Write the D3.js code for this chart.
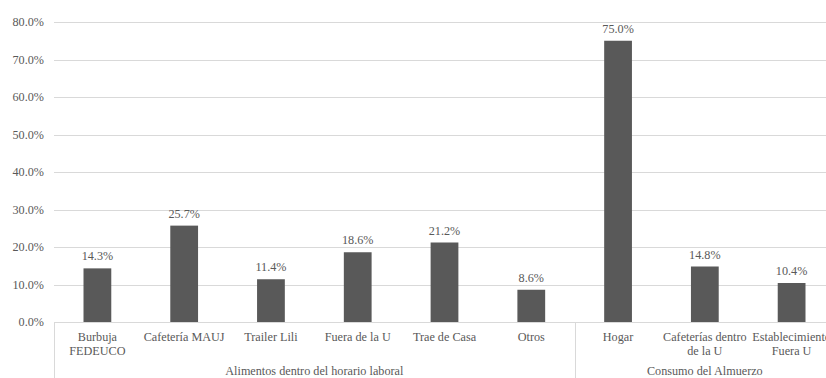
<!DOCTYPE html>
<html>
<head>
<meta charset="utf-8">
<script src="https://cdn.jsdelivr.net/npm/d3@7"></script>
<style>
  html, body { margin: 0; padding: 0; background: #fff; }
  svg { display: block; }
</style>
</head>
<body>
<svg id="chart" width="826" height="378"></svg>
<script>
// Category labels (line breaks with \n), group for each, and percentage values
const categories = [
  "Burbuja\nFEDEUCO", "Cafetería MAUJ", "Trailer Lili", "Fuera de la U",
  "Trae de Casa", "Otros", "Hogar", "Cafeterías dentro\nde la U", "Establecimiento\nFuera U"
];
const groups = [
  "Alimentos dentro del horario laboral", "Alimentos dentro del horario laboral",
  "Alimentos dentro del horario laboral", "Alimentos dentro del horario laboral",
  "Alimentos dentro del horario laboral", "Alimentos dentro del horario laboral",
  "Consumo del Almuerzo", "Consumo del Almuerzo", "Consumo del Almuerzo"
];
const values = [14.3, 25.7, 11.4, 18.6, 21.2, 8.6, 75.0, 14.8, 10.4];
const yTicks = [0, 10, 20, 30, 40, 50, 60, 70, 80];

const svg = d3.select("#chart");
const plotLeft = 54, plotRight = 835, plotTop = 22, plotBottom = 322, svgH = 378, svgW = 826;
const fontSize = 12.2, textColor = "#595959", serif = '"Liberation Serif"';

// Shared text styling
const styleText = sel => sel.style("font-family", serif).style("font-size", fontSize + "px").attr("fill", textColor);

const ids = d3.range(categories.length);
const xOuter = d3.scaleBand().domain(ids).range([plotLeft, plotRight]).padding(0);
const x = d3.scaleBand().domain(ids).range([plotLeft, plotRight]).paddingInner(0.68).paddingOuter(0.34);
const y = d3.scaleLinear().domain([0, 80]).range([plotBottom, plotTop]);

// Horizontal gridlines
svg.append("g").selectAll("line").data(yTicks).join("line")
  .attr("x1", plotLeft).attr("x2", svgW)
  .attr("y1", d => Math.round(y(d)) + 0.5).attr("y2", d => Math.round(y(d)) + 0.5)
  .attr("stroke", "#d9d9d9").attr("stroke-width", 1);

// Y tick labels
svg.append("g").selectAll("text").data(yTicks).join("text")
  .attr("x", 44).attr("y", d => y(d)).attr("dy", "0.35em")
  .attr("text-anchor", "end").call(styleText)
  .text(d => d3.format(".1f")(d) + "%");

// Bars
svg.append("g").selectAll("rect").data(values).join("rect")
  .attr("x", (d, i) => x(i)).attr("width", x.bandwidth())
  .attr("y", d => y(d)).attr("height", d => y(0) - y(d))
  .attr("fill", "#595959");

// Value labels
svg.append("g").selectAll("text").data(values).join("text")
  .attr("x", (d, i) => x(i) + x.bandwidth() / 2)
  .attr("y", d => y(d) - 8)
  .attr("text-anchor", "middle").call(styleText)
  .text(d => d3.format(".1f")(d) + "%");

// Category axis baseline
svg.append("line")
  .attr("x1", plotLeft).attr("x2", svgW)
  .attr("y1", plotBottom + 0.5).attr("y2", plotBottom + 0.5)
  .attr("stroke", "#d9d9d9");

// Category labels
const catG = svg.append("g");
categories.forEach((c, i) => {
  const cx = xOuter(i) + xOuter.bandwidth() / 2;
  const t = catG.append("text")
    .attr("x", cx).attr("y", 340.5)
    .attr("text-anchor", "middle").call(styleText);
  c.split("\n").forEach((line, k) => {
    t.append("tspan").attr("x", cx).attr("dy", k === 0 ? 0 : 14.5).text(line);
  });
});

// Group spans and separators
const groupNames = Array.from(new Set(groups));
const spans = groupNames.map(g => {
  const idx = ids.filter(i => groups[i] === g);
  return { name: g, x0: xOuter(idx[0]), x1: xOuter(idx[idx.length - 1]) + xOuter.bandwidth() };
});
svg.append("g").selectAll("line").data(spans).join("line")
  .attr("x1", d => Math.round(d.x0) + 0.5).attr("x2", d => Math.round(d.x0) + 0.5)
  .attr("y1", plotBottom).attr("y2", svgH)
  .attr("stroke", "#d9d9d9");
svg.append("g").selectAll("text").data(spans).join("text")
  .attr("x", d => (d.x0 + d.x1) / 2)
  .attr("y", 375)
  .attr("text-anchor", "middle").call(styleText)
  .text(d => d.name);
</script>
</body>
</html>
